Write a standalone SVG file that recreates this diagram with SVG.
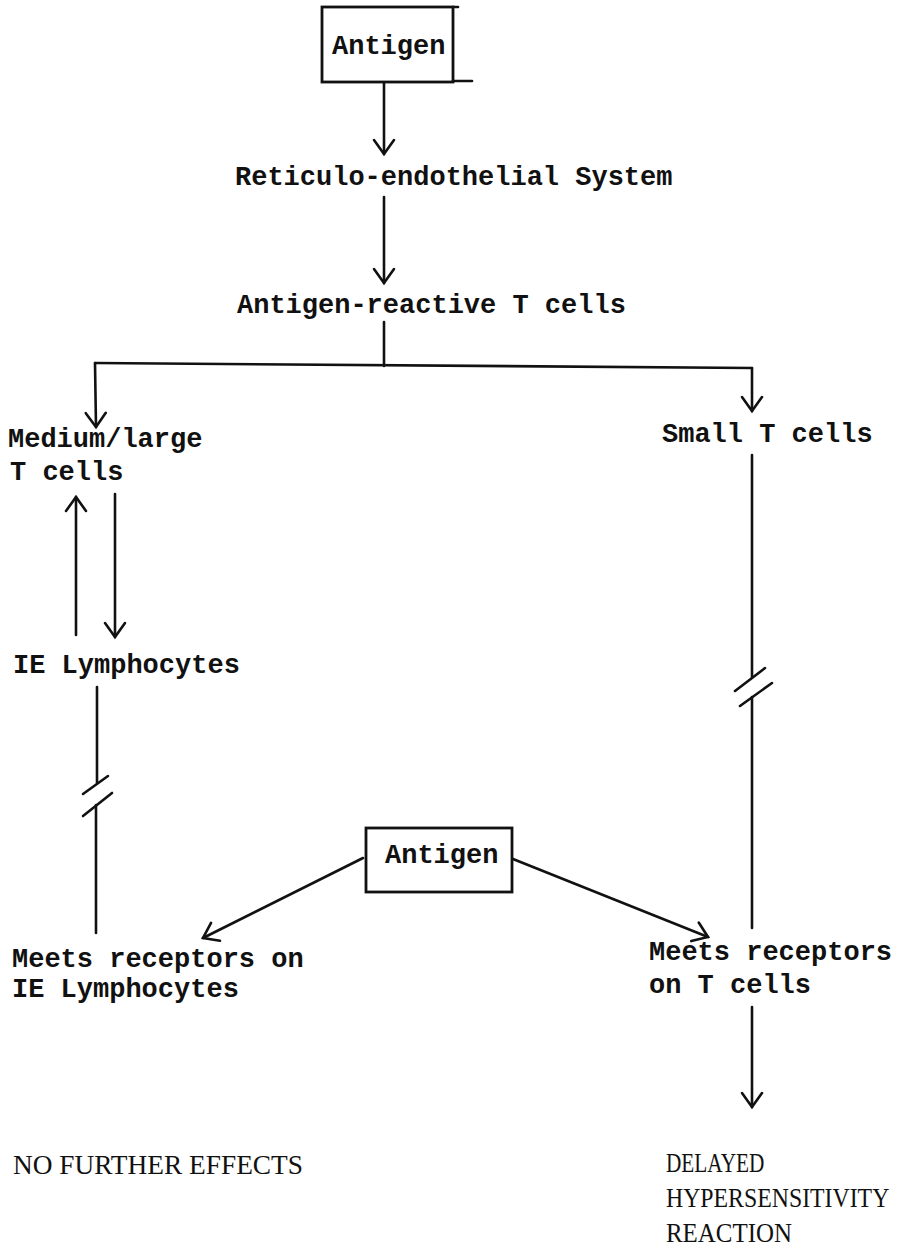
<svg xmlns="http://www.w3.org/2000/svg" width="918" height="1259" viewBox="0 0 918 1259">
<style>
.t{font-family:"Liberation Mono","Courier New",monospace;font-size:27px;font-weight:bold;fill:#111}
.s{font-family:"Liberation Serif","Times New Roman",serif;font-size:28px;fill:#111}
.ln{stroke:#111;stroke-width:2.6;fill:none;stroke-linecap:round}
.bx{stroke:#111;stroke-width:2.8;fill:#fff}
</style>
<defs>
<marker id="ah" markerUnits="userSpaceOnUse" markerWidth="30" markerHeight="30" viewBox="-16 -15 30 30" refX="0" refY="0" orient="auto">
<path d="M-14,-10 L0,0 L-14,10" fill="none" stroke="#111" stroke-width="2.6" stroke-linecap="round" stroke-linejoin="miter"/>
</marker>
</defs>
<rect width="918" height="1259" fill="#fff"/>
<g id="connectors">
<line class="ln" x1="384" y1="82" x2="384" y2="154" marker-end="url(#ah)"/>
<line class="ln" x1="384" y1="197" x2="384" y2="283" marker-end="url(#ah)"/>
<line class="ln" x1="384" y1="322" x2="384" y2="366"/>
<line class="ln" x1="95" y1="363" x2="752" y2="368"/>
<line class="ln" x1="95" y1="363" x2="96" y2="427" marker-end="url(#ah)"/>
<line class="ln" x1="752" y1="368" x2="752" y2="411" marker-end="url(#ah)"/>
<line class="ln" x1="76" y1="635" x2="76" y2="497" marker-end="url(#ah)"/>
<line class="ln" x1="115" y1="494" x2="115" y2="637" marker-end="url(#ah)"/>
<line class="ln" x1="97" y1="687" x2="97" y2="783"/>
<line class="ln" x1="83" y1="794" x2="108" y2="776"/>
<line class="ln" x1="83" y1="816" x2="112" y2="793"/>
<line class="ln" x1="96" y1="805" x2="96" y2="933"/>
<line class="ln" x1="752" y1="455" x2="752" y2="677"/>
<line class="ln" x1="735" y1="691" x2="765" y2="668"/>
<line class="ln" x1="740" y1="706" x2="772" y2="683"/>
<line class="ln" x1="752" y1="697" x2="752" y2="928"/>
<line class="ln" x1="363" y1="858" x2="203" y2="938" marker-end="url(#ah)"/>
<line class="ln" x1="513" y1="859" x2="708" y2="937" marker-end="url(#ah)"/>
<line class="ln" x1="752" y1="1007" x2="752" y2="1107" marker-end="url(#ah)"/>
</g>
<g id="antigen1">
<rect class="bx" x="322" y="7" width="131" height="75"/>
<line class="ln" x1="453" y1="7" x2="458" y2="7" stroke-width="1.5"/>
<line class="ln" x1="453" y1="81" x2="472" y2="81" stroke-width="1.5"/>
<text class="t" x="332" y="54">Antigen</text>
</g>
<g id="res"><text class="t" x="235" y="185">Reticulo-endothelial System</text></g>
<g id="artc"><text class="t" x="237" y="313">Antigen-reactive T cells</text></g>
<g id="mlt"><text class="t" x="8" y="447">Medium/large</text><text class="t" x="10" y="480">T cells</text></g>
<g id="stc"><text class="t" x="662" y="442">Small T cells</text></g>
<g id="iel"><text class="t" x="13" y="673">IE Lymphocytes</text></g>
<g id="antigen2">
<rect class="bx" x="366" y="828" width="146" height="64"/>
<text class="t" x="385" y="863">Antigen</text>
</g>
<g id="mrie"><text class="t" x="12" y="967">Meets receptors on</text><text class="t" x="12" y="997">IE Lymphocytes</text></g>
<g id="mrt"><text class="t" x="649" y="960">Meets receptors</text><text class="t" x="649" y="993">on T cells</text></g>
<g id="nfe"><text class="s" transform="translate(13,1174) scale(0.977,1)">NO FURTHER EFFECTS</text></g>
<g id="dhr">
<text class="s" transform="translate(666,1172) scale(0.76,1)">DELAYED</text>
<text class="s" transform="translate(666,1207) scale(0.85,1)">HYPERSENSITIVITY</text>
<text class="s" transform="translate(666,1242) scale(0.89,1)">REACTION</text>
</g>
</svg>
